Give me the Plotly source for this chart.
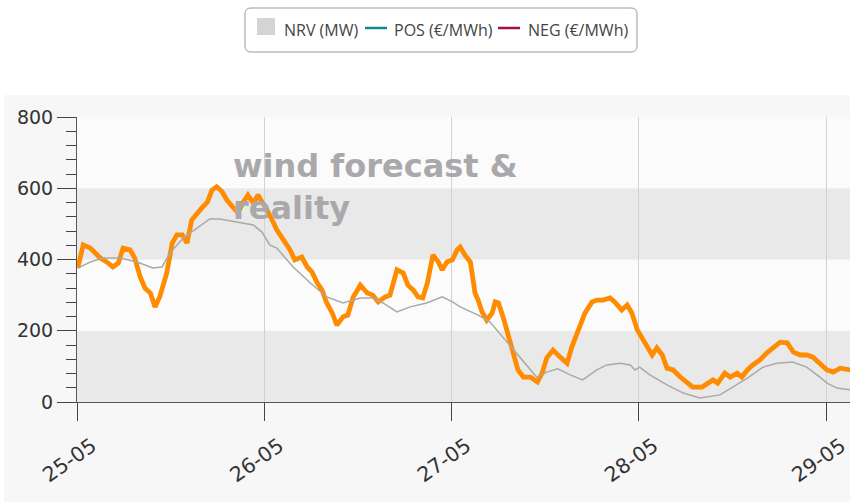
import pandas as pd
import plotly.graph_objects as go

# ---------------- data ----------------
start = pd.Timestamp("2021-05-25 00:00")
view_hours = 99.05  # visible span of the x axis, hours after start

# measured wind (orange)
orange_h = [0.1, 0.8, 1.7, 2.3, 3.0, 3.8, 4.6, 5.3, 5.9, 6.8,
            7.4, 8.1, 8.7, 9.4, 10.0, 10.6, 11.5, 12.2, 12.8, 13.5,
            14.1, 14.7, 15.4, 16.0, 16.7, 17.3, 17.9, 18.6, 19.2, 20.0,
            20.6, 21.3, 21.9, 22.6, 23.2, 23.8, 24.7, 25.6, 26.4, 27.3,
            27.9, 28.8, 29.5, 30.1, 30.8, 31.4, 32.0, 32.7, 33.3, 34.1,
            34.7, 35.4, 36.3, 37.2, 37.9, 38.6, 39.5, 40.1, 41.0, 41.8,
            42.4, 43.1, 43.7, 44.3, 44.9, 45.6, 46.3, 46.8, 47.4, 48.1,
            48.7, 49.1, 49.7, 50.4, 50.7, 51.0, 51.4, 51.9, 52.5, 53.2,
            53.6, 54.0, 54.6, 55.2, 55.9, 56.5, 57.2, 58.1, 59.0, 59.6,
            60.2, 61.0, 61.9, 62.8, 63.4, 64.2, 65.1, 66.0, 66.6, 67.4,
            68.3, 68.9, 69.8, 70.5, 71.1, 71.8, 72.5, 73.7, 74.3, 75.0,
            75.6, 76.4, 77.3, 78.2, 78.9, 80.1, 80.9, 81.5, 82.1, 83.0,
            83.7, 84.6, 85.2, 85.9, 86.6, 87.5, 88.4, 89.2, 90.1, 91.0,
            91.8, 92.7, 93.5, 94.3, 95.2, 96.1, 96.9, 97.8, 99.1]
orange_v = [376, 441, 432, 418, 404, 393, 379, 390, 432, 427,
            404, 351, 320, 306, 267, 295, 362, 446, 469, 469,
            446, 511, 531, 545, 561, 595, 604, 590, 567, 545,
            531, 561, 581, 558, 581, 558, 525, 483, 455, 427,
            399, 407, 379, 365, 334, 314, 278, 250, 216, 239,
            244, 295, 328, 306, 300, 281, 295, 300, 371, 362,
            328, 314, 295, 292, 334, 413, 393, 371, 393, 399,
            427, 435, 413, 393, 351, 306, 286, 253, 230, 250,
            281, 278, 239, 194, 138, 90, 70, 70, 56, 81,
            124, 146, 126, 109, 154, 202, 250, 281, 286, 286,
            292, 281, 258, 272, 250, 202, 174, 132, 152, 132,
            95, 90, 70, 53, 42, 42, 53, 62, 53, 81,
            70, 81, 70, 90, 104, 118, 138, 152, 168, 166,
            140, 132, 132, 126, 109, 90, 84, 95, 90]

# forecast (gray)
gray_h = [0.1, 1.7, 3.3, 5.5, 7.7, 9.7, 10.9, 11.9, 13.6, 15.4,
          17.0, 18.3, 20.5, 22.6, 23.7, 24.7, 25.6, 27.7, 29.9, 32.0,
          34.1, 36.3, 37.9, 39.2, 41.0, 42.7, 44.8, 46.8, 48.1, 49.1,
          50.0, 51.4, 52.9, 55.1, 56.8, 58.9, 60.2, 61.6, 63.2, 64.8,
          66.6, 67.9, 69.6, 70.9, 71.5, 72.1, 73.4, 75.6, 77.7, 79.8,
          82.4, 84.1, 85.9, 87.9, 89.7, 91.7, 93.5, 95.2, 96.1, 97.4,
          99.1]
gray_v = [376, 393, 404, 404, 393, 376, 379, 418, 460, 488,
          514, 514, 505, 497, 477, 441, 432, 379, 334, 295,
          278, 292, 292, 278, 253, 267, 278, 295, 281, 267,
          258, 244, 225, 168, 124, 70, 84, 93, 76, 62,
          90, 104, 109, 104, 90, 98, 76, 48, 25, 11,
          20, 42, 67, 98, 109, 112, 98, 70, 53, 39,
          34]

assert len(orange_h) == len(orange_v)
assert len(gray_h) == len(gray_v)

y_ticks = [0, 200, 400, 600, 800]
band_edges = [0, 200, 400, 600, 800]
legend_labels = ["NRV (MW)", "POS (€/MWh)", "NEG (€/MWh)"]
legend_colors = ["#d4d4d4", "#14868e", "#a3173a"]
title_text = "wind forecast &<br>reality"

# ---------------- layout helpers (pixel -> paper) ----------------
W, H = 850, 502
ML, MR, MT, MB = 77, 0, 117, 100
PW, PH = W - ML - MR, H - MT - MB


def px(x):
    return (x - ML) / PW


def py(y):
    return (H - MB - y) / PH


orange_t = start + pd.to_timedelta(orange_h, unit="h")
gray_t = start + pd.to_timedelta(gray_h, unit="h")

fig = go.Figure()
fig.add_trace(go.Scatter(x=orange_t, y=orange_v, mode="lines",
                         line=dict(color="#ff8c00", width=4.8),
                         hoverinfo="skip"))
fig.add_trace(go.Scatter(x=gray_t, y=gray_v, mode="lines",
                         line=dict(color="#a9a9a9", width=1.5),
                         hoverinfo="skip"))

shapes = []
# chart panel background
shapes.append(dict(type="rect", xref="paper", yref="paper",
                   x0=px(4), x1=px(W), y0=py(95), y1=py(H),
                   fillcolor="#f7f7f7", line=dict(width=0), layer="below"))
# alternating bands
for i in range(len(band_edges) - 1):
    shapes.append(dict(type="rect", xref="paper", yref="y",
                       x0=0, x1=1, y0=band_edges[i], y1=band_edges[i + 1],
                       fillcolor="#e9e9e9" if i % 2 == 0 else "#fbfbfb",
                       line=dict(width=0), layer="below"))

# legend box (rounded)
lx0, lx1, ly0, ly1, r = 245, 637, 8, 52, 6
path = (f"M {px(lx0 + r)},{py(ly0)} L {px(lx1 - r)},{py(ly0)} "
        f"Q {px(lx1)},{py(ly0)} {px(lx1)},{py(ly0 + r)} "
        f"L {px(lx1)},{py(ly1 - r)} Q {px(lx1)},{py(ly1)} {px(lx1 - r)},{py(ly1)} "
        f"L {px(lx0 + r)},{py(ly1)} Q {px(lx0)},{py(ly1)} {px(lx0)},{py(ly1 - r)} "
        f"L {px(lx0)},{py(ly0 + r)} Q {px(lx0)},{py(ly0)} {px(lx0 + r)},{py(ly0)} Z")
shapes.append(dict(type="path", xref="paper", yref="paper", path=path,
                   fillcolor="white", line=dict(color="#9a9a9a", width=1)))
# legend symbols
shapes.append(dict(type="rect", xref="paper", yref="paper",
                   x0=px(257), x1=px(275), y0=py(18), y1=py(35),
                   fillcolor=legend_colors[0], line=dict(width=0)))
shapes.append(dict(type="line", xref="paper", yref="paper",
                   x0=px(365), x1=px(387), y0=py(28), y1=py(28),
                   line=dict(color=legend_colors[1], width=2.5)))
shapes.append(dict(type="line", xref="paper", yref="paper",
                   x0=px(498), x1=px(520), y0=py(28), y1=py(28),
                   line=dict(color=legend_colors[2], width=2.5)))

annotations = []
for label, x in zip(legend_labels, [282, 392, 526]):
    annotations.append(dict(xref="paper", yref="paper", x=px(x), y=py(30),
                            xanchor="left", yanchor="middle", showarrow=False,
                            text=label,
                            font=dict(family="Open Sans", size=16, color="#444")))
annotations.append(dict(xref="paper", yref="paper", x=px(231), y=py(145),
                        xanchor="left", yanchor="top", align="left",
                        showarrow=False, text=title_text,
                        font=dict(family="DejaVu Sans", size=32,
                                  color="#a9a9ab", weight=700)))

ytickfont = dict(family="DejaVu Sans", size=19, color="#333")
xtickfont = dict(family="DejaVu Sans", size=20.5, color="#333")

fig.update_layout(
    width=W, height=H,
    margin=dict(l=ML, r=MR, t=MT, b=MB, pad=0),
    paper_bgcolor="white", plot_bgcolor="rgba(0,0,0,0)",
    showlegend=False,
    shapes=shapes, annotations=annotations,
    xaxis=dict(range=[start, start + pd.Timedelta(hours=view_hours)],
               type="date", dtick=86400000, tick0=start,
               tickformat="%d-%m", tickangle=-35,
               ticks="outside", ticklen=18, tickcolor="#444", tickwidth=1,
               showline=True, linecolor="#555", linewidth=1,
               showgrid=True, gridcolor="#d2d2d2", gridwidth=1,
               zeroline=False, tickfont=xtickfont,
               ticklabelshift=15, ticklabelstandoff=5,
               ticklabeloverflow="allow"),
    yaxis=dict(range=[0, 800], tickvals=y_ticks,
               ticks="outside", ticklen=19, tickcolor="#444", tickwidth=1,
               minor=dict(dtick=40, tick0=0, ticks="outside", ticklen=10,
                          tickcolor="#444", tickwidth=1, showgrid=False),
               showline=True, linecolor="#555", linewidth=1,
               showgrid=False, zeroline=False, tickfont=ytickfont),
)

fig.write_html(
    "out.html", config={"displayModeBar": False},
    post_script=(
        "document.documentElement.style.overflow='hidden';"
        "document.body.style.margin='0';"
        "document.body.style.overflow='hidden';"
    ),
)
